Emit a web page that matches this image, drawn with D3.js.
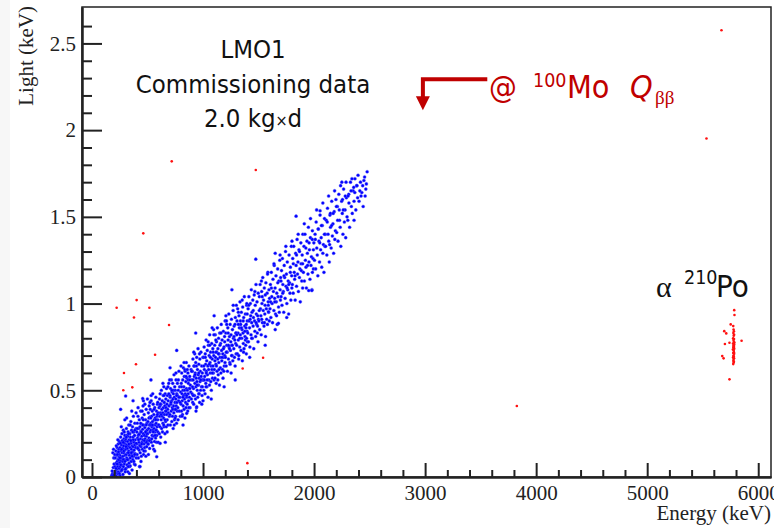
<!DOCTYPE html>
<html>
<head>
<meta charset="utf-8">
<script src="https://cdn.jsdelivr.net/npm/d3@7"></script>
<style>
  body { margin: 0; background: #fff; }
</style>
</head>
<body>
<svg id="chart" width="774" height="528"></svg>
<script>
// axis ticks
const xMajor = [0, 1000, 2000, 3000, 4000, 5000, 6000];
const yMajor = [0, 0.5, 1, 1.5, 2, 2.5];

// beta/gamma band, pairs of [energy keV, light eV]
const bandLow = [
  185,20, 192,55, 178,10, 196,110, 188,140, 199,75, 182,35, 194,160,
  203,15, 207,60, 210,110, 212,35, 215,150, 218,80, 220,5, 222,45, 224,125, 226,170, 228,90, 230,20, 231,60, 233,140,
  235,100, 236,190, 238,30, 240,75, 241,160, 243,115, 245,50, 246,205, 248,130, 250,85, 251,10, 253,170, 255,60, 257,120,
  258,230, 260,95, 262,35, 263,150, 265,185, 267,70, 268,110, 270,250, 272,140, 273,45, 275,200, 277,90, 278,165, 280,120,
  282,270, 283,60, 285,180, 287,140, 288,220, 290,100, 292,75, 293,195, 295,155, 296,240, 298,125, 299,30, 300,210,
  301,95, 303,160, 305,220, 306,50, 308,130, 310,280, 311,185, 313,110, 315,240, 316,70, 318,165, 320,205, 321,140, 323,30,
  325,260, 326,100, 328,180, 330,150, 331,300, 333,80, 335,215, 336,125, 338,190, 340,60, 341,250, 343,170, 345,110, 346,230,
  348,140, 350,320, 351,195, 353,90, 355,160, 356,270, 358,125, 360,210, 361,40, 363,180, 365,290, 366,145, 368,100, 370,230,
  371,175, 373,350, 375,120, 376,260, 378,200, 380,155, 381,75, 383,240, 385,185, 386,310, 388,135, 390,215, 393,170, 396,280, 399,110,
  402,190, 404,260, 406,130, 408,310, 410,225, 412,170, 414,350, 416,240, 418,110, 420,280, 422,200, 424,155, 426,330, 428,250,
  430,185, 432,290, 434,140, 436,220, 438,380, 440,265, 442,175, 444,120, 446,305, 448,235, 450,200, 452,340, 454,160, 456,275,
  458,215, 460,410, 462,250, 464,130, 466,300, 468,190, 470,360, 472,240, 474,170, 476,285, 478,220, 480,150, 482,330, 484,260,
  486,200, 488,390, 490,235, 492,175, 494,310, 496,270, 498,210, 499,450,
  502,250, 504,320, 506,190, 508,370, 510,280, 513,225, 515,410, 517,300, 519,165, 521,345, 523,260, 525,390, 527,215, 529,310,
  531,270, 533,440, 535,200, 537,350, 539,290, 541,240, 543,380, 545,320, 547,180, 549,270, 551,420, 553,300, 555,235, 557,360,
  559,280, 561,330, 563,205, 565,400, 567,260, 569,340, 571,300, 573,225, 575,460, 577,310, 579,270, 581,380, 583,240, 585,350,
  587,290, 589,420, 591,330, 593,260, 595,370, 598,300,
  205,130, 247,20, 233,215, 268,40, 219,180, 291,260, 254,195, 279,15, 312,340, 337,20, 264,290, 301,45, 358,380, 322,235,
  389,70, 345,300, 377,90, 296,330, 415,400, 441,90, 463,440, 397,370, 428,60, 485,120, 452,380, 508,130, 533,470, 476,420,
  556,160, 522,430, 581,200, 547,480, 592,430, 565,150, 517,210, 489,300, 443,260, 419,215, 371,215, 354,140, 332,190, 318,100,
  286,150, 273,210, 259,70, 242,100, 229,130, 216,50, 209,25, 283,100, 306,175, 329,250, 344,65, 367,260, 384,130, 407,280,
  433,180, 457,300, 471,210, 494,250, 513,340, 538,220, 559,390, 577,270, 596,200, 412,165, 438,310, 467,150, 491,200, 526,300,
  552,260, 574,330, 226,75, 239,145, 252,110, 266,160, 281,200, 297,90, 309,230, 327,140, 349,210, 362,120, 386,270, 398,195,
  423,245, 447,190, 462,330, 483,260, 505,190, 529,340, 543,300, 568,240, 589,360
];
const bandMid = [
  602,300, 604,400, 606,250, 608,450, 610,350, 612,290, 614,480, 617,370, 619,230, 621,420, 623,330, 625,500, 627,280, 629,390,
  631,350, 633,440, 635,260, 637,370, 639,310, 641,470, 643,400, 645,340, 647,520, 649,290, 651,430, 653,360, 655,410, 657,250,
  659,480, 661,380, 663,320, 665,450, 667,400, 669,290, 671,510, 673,360, 675,420, 677,330, 680,470, 682,390, 684,300, 686,440,
  688,370, 691,540, 694,410, 697,350,
  702,360, 704,460, 706,300, 708,510, 710,420, 713,380, 715,560, 717,440, 719,320, 721,490, 723,400, 725,350, 727,540, 729,450,
  731,280, 733,480, 735,410, 737,370, 739,590, 741,460, 743,330, 745,520, 747,430, 749,390, 751,500, 753,350, 755,450, 757,560,
  759,410, 761,310, 763,480, 765,430, 767,380, 769,540, 771,470, 773,400, 775,330, 777,500, 780,440, 783,610, 786,380, 789,520,
  792,460, 795,350, 798,490,
  802,420, 804,540, 806,380, 808,600, 811,480, 813,440, 815,360, 817,560, 819,500, 821,410, 823,630, 825,470, 827,520, 829,390,
  831,580, 833,450, 835,500, 837,340, 839,610, 841,480, 843,430, 845,550, 847,400, 849,660, 851,510, 853,460, 855,570, 857,420,
  859,500, 862,380, 864,600, 866,480, 868,540, 870,440, 873,640, 875,510, 878,460, 880,580, 883,400, 886,530, 889,490, 892,620,
  895,450, 898,560,
  902,480, 904,610, 907,430, 909,680, 911,560, 914,510, 916,420, 918,640, 921,580, 923,470, 925,710, 927,540, 930,600, 932,450,
  934,660, 936,520, 939,570, 941,400, 943,690, 945,550, 948,500, 950,620, 952,460, 955,740, 957,590, 959,530, 962,650, 964,480,
  966,570, 969,430, 971,680, 973,550, 976,610, 978,500, 981,720, 983,580, 986,520, 988,640, 991,470, 994,600, 996,560, 999,690,
  1002,560, 1005,690, 1007,500, 1010,750, 1012,620, 1015,580, 1018,480, 1020,710, 1023,650, 1025,540, 1028,790, 1030,610,
  1033,670, 1035,520, 1038,730, 1040,590, 1043,640, 1045,460, 1048,760, 1050,620, 1053,560, 1055,700, 1058,530, 1060,820,
  1063,660, 1065,600, 1068,720, 1070,550, 1073,640, 1075,500, 1078,770, 1080,620, 1083,680, 1085,570, 1088,740, 1090,640,
  1093,600, 1095,850, 1097,700, 1099,560,
  1102,620, 1105,760, 1108,570, 1110,820, 1113,690, 1116,650, 1118,540, 1121,780, 1124,720, 1126,610, 1129,860, 1132,680,
  1134,740, 1137,590, 1140,800, 1142,660, 1145,710, 1148,530, 1150,830, 1153,690, 1156,630, 1158,770, 1161,600, 1164,880,
  1167,730, 1169,670, 1172,790, 1175,620, 1178,710, 1180,570, 1183,840, 1186,690, 1189,750, 1191,640, 1194,810, 1196,700,
  1198,660, 1199,900,
  1202,690, 1205,830, 1208,640, 1211,900, 1214,760, 1217,720, 1220,610, 1223,860, 1226,790, 1229,680, 1232,940, 1235,750,
  1238,810, 1241,660, 1244,880, 1247,730, 1250,780, 1253,600, 1256,910, 1259,760, 1262,700, 1265,850, 1268,670, 1271,960,
  1274,800, 1277,740, 1280,870, 1283,690, 1286,790, 1289,640, 1291,920, 1294,770, 1296,830, 1298,710, 1300,990, 1290,560,
  1303,760, 1306,900, 1309,710, 1312,970, 1315,830, 1318,790, 1321,680, 1324,930, 1327,860, 1330,750, 1333,1010, 1336,820,
  1339,880, 1342,730, 1345,950, 1348,800, 1351,850, 1354,670, 1357,980, 1360,830, 1363,770, 1366,920, 1369,740, 1372,1040,
  1375,870, 1378,810, 1381,940, 1384,760, 1387,860, 1390,710, 1393,990, 1396,840, 1398,900, 1399,780,
  612,410, 658,330, 703,470, 639,540, 677,260, 728,390, 756,600, 692,480, 741,300, 783,460, 811,350, 847,580, 873,400, 829,660,
  905,520, 937,380, 968,710, 921,640, 989,420, 1012,560, 1046,780, 1074,450, 1021,690, 1098,820, 1133,560, 1162,830, 1117,720,
  1187,610, 1213,880, 1244,650, 1272,990, 1229,760, 1297,830, 1322,700, 1353,1020, 1381,790, 1337,900, 1394,1000, 622,360,
  648,470, 667,380, 684,520, 711,430, 735,500, 749,340, 762,470, 778,560, 794,430, 806,520, 819,460, 836,620, 852,470, 866,560,
  881,510, 897,610, 911,470, 928,590, 946,530, 961,600, 979,560, 994,520, 1007,640, 1029,600, 1037,560, 1056,650, 1067,690,
  1083,600, 1092,720, 1107,670, 1121,640, 1138,710, 1152,760, 1171,690, 1184,740, 1195,780, 1209,720, 1226,830, 1238,740,
  1252,820, 1263,760, 1279,810, 1288,880, 1304,820, 1318,880, 1331,800, 1346,860, 1362,900, 1376,840, 1389,880, 1398,940,
  615,420, 646,300, 699,560, 752,390, 802,640, 858,620, 917,720, 963,480, 1027,520, 1082,860, 1143,620, 1206,930, 1257,700,
  1318,950, 1365,720, 1392,800, 1060,760, 1115,790, 940,640, 880,560, 720,500
];
const bandHigh = [
  1403,830, 1406,970, 1409,780, 1413,1040, 1416,900, 1419,860, 1422,750, 1426,1000, 1429,930, 1432,820, 1435,1080, 1438,890,
  1441,950, 1444,800, 1448,1020, 1451,870, 1454,920, 1457,740, 1461,1050, 1464,900, 1467,840, 1470,990, 1474,810, 1477,1110,
  1480,940, 1483,880, 1486,1010, 1489,830, 1492,930, 1495,780, 1497,1060, 1499,910,
  1503,900, 1507,1040, 1510,850, 1514,1110, 1517,970, 1521,930, 1524,820, 1528,1070, 1531,1000, 1535,890, 1538,1150, 1542,960,
  1545,1020, 1549,870, 1552,1090, 1556,940, 1559,990, 1563,810, 1566,1120, 1570,970, 1573,910, 1577,1060, 1580,880, 1584,1180,
  1587,1010, 1591,950, 1594,1080, 1597,900, 1599,1030, 1560,760,
  1603,970, 1607,1110, 1611,920, 1615,1180, 1619,1040, 1622,1000, 1626,890, 1630,1140, 1634,1070, 1638,960, 1641,1220, 1645,1030,
  1649,1090, 1653,940, 1657,1160, 1660,1010, 1664,1060, 1668,880, 1672,1200, 1676,1040, 1680,980, 1683,1130, 1687,950, 1691,1250,
  1694,1080, 1697,1020, 1699,1150, 1650,850,
  1703,1040, 1707,1190, 1711,990, 1715,1260, 1719,1110, 1723,1070, 1727,950, 1731,1220, 1735,1150, 1739,1030, 1743,1300, 1747,1100,
  1751,1170, 1755,1000, 1759,1240, 1763,1080, 1767,1130, 1771,940, 1775,1280, 1779,1120, 1783,1060, 1787,1210, 1791,1020, 1795,1330,
  1798,1160, 1800,1090,
  1804,1110, 1808,1260, 1812,1060, 1817,1330, 1821,1180, 1825,1140, 1830,1020, 1834,1290, 1838,1220, 1842,1100, 1847,1370, 1851,1170,
  1855,1240, 1859,1070, 1864,1310, 1868,1150, 1872,1200, 1876,1010, 1881,1350, 1885,1190, 1889,1130, 1893,1280, 1897,1090, 1899,1400,
  1904,1180, 1909,1330, 1913,1130, 1918,1400, 1922,1250, 1927,1210, 1931,1090, 1936,1360, 1940,1290, 1945,1170, 1949,1440, 1954,1240,
  1958,1310, 1963,1140, 1967,1380, 1972,1220, 1976,1270, 1981,1080, 1985,1420, 1990,1260, 1994,1200, 1998,1350, 1952,1075, 1980,1075,
  2004,1250, 2009,1400, 2014,1200, 2019,1470, 2024,1320, 2029,1280, 2034,1160, 2039,1430, 2044,1360, 2049,1240, 2054,1510, 2059,1310,
  2064,1380, 2069,1210, 2074,1450, 2079,1290, 2084,1340, 2089,1180, 2094,1490, 2098,1330,
  2104,1330, 2110,1480, 2115,1280, 2121,1550, 2126,1400, 2132,1360, 2137,1240, 2143,1510, 2148,1440, 2154,1320, 2159,1590, 2165,1390,
  2170,1460, 2176,1290, 2181,1530, 2187,1370, 2192,1420, 2197,1600,
  2204,1410, 2210,1560, 2216,1360, 2223,1630, 2229,1480, 2235,1440, 2241,1330, 2248,1590, 2254,1520, 2260,1400, 2266,1660, 2273,1470,
  2279,1540, 2285,1380, 2291,1610, 2297,1500,
  2304,1480, 2312,1630, 2320,1440, 2328,1700, 2336,1560, 2344,1520, 2352,1650, 2360,1590, 2368,1720, 2376,1540, 2384,1680, 2392,1610,
  2405,1590, 2418,1700, 2430,1640, 2442,1560, 2455,1730, 2466,1660, 2478,1760,
  1412,990, 1438,800, 1467,1070, 1491,870, 1526,1130, 1553,890, 1581,1170, 1608,1010, 1639,1230, 1662,930, 1694,1280, 1718,1060,
  1746,1330, 1772,1110, 1801,1360, 1829,1160, 1857,1400, 1883,1230, 1912,1460, 1941,1220, 1968,1490, 1994,1310, 2023,1540, 2051,1350,
  2079,1580, 2102,1400, 2131,1620, 2158,1450, 2185,1650, 2212,1480, 2239,1680, 2263,1540, 2288,1700, 2314,1580, 2341,1720, 2367,1640,
  2396,1740, 2423,1620, 2449,1710, 2471,1690, 1424,910, 1452,960, 1478,890, 1506,960, 1533,1040, 1561,1050, 1588,990, 1616,1090,
  1646,1010, 1673,1120, 1702,1130, 1729,1160, 1757,1090, 1786,1180, 1813,1230, 1842,1280, 1869,1300, 1897,1230, 1926,1320, 1955,1350,
  1984,1370, 2011,1370, 2037,1430, 2066,1450, 2093,1400, 2119,1470, 2147,1520, 2172,1520, 2201,1560, 2227,1540, 2256,1600, 2281,1620,
  2306,1620, 2333,1650, 2357,1670, 2386,1680, 2412,1650, 2438,1680, 2460,1620, 1985,1180, 2140,1340
];
// stray blue events along the band edges
const bandEdges = [
  934,830, 763,730, 703,630, 531,560, 370,440, 258,390, 1475,1256, 1754,920, 1679,886, 1838,1504, 2054,1535, 2360,1480,
  1529,909, 1589,953, 943,405, 853,367, 613,194, 583,117, 432,60, 327,60, 192,10, 303,467, 457,453, 1100,930, 1260,1080,
  1190,520, 1420,690, 1650,1290, 2250,1700, 660,200, 820,300, 1000,440
];

// red events outside the band: [energy keV, light keV]
const redOutliers = [
  [222,0.976], [402,1.02], [517,0.976], [378,0.92], [694,0.876], [568,0.705], [396,0.65], [288,0.60],
  [282,0.50], [363,0.517], [718,1.82], [462,1.405], [1541,0.688], [1357,0.626], [1399,0.08], [1475,1.77],
  [5669,2.576], [5534,1.952], [3826,0.409]
];
// 210Po alpha line
const poAlpha = [
  [5784,0.962], [5786,0.934], [5752,0.88], [5775,0.87], [5694,0.841], [5712,0.828], [5850,0.786], [5700,0.767],
  [5741,0.774], [5676,0.697], [5688,0.684], [5741,0.563], [5775,0.651],
  [5778,0.85], [5781,0.84], [5776,0.83], [5783,0.82], [5779,0.815], [5774,0.80], [5782,0.795], [5777,0.79],
  [5780,0.78], [5785,0.775], [5773,0.77], [5778,0.76], [5782,0.755], [5776,0.75], [5780,0.745], [5784,0.74],
  [5772,0.735], [5779,0.73], [5781,0.72], [5775,0.715], [5783,0.71], [5777,0.70], [5780,0.695], [5774,0.69],
  [5782,0.685], [5778,0.68], [5776,0.67], [5781,0.665], [5779,0.66], [5777,0.745], [5783,0.765]
];
const qbbArrow = { e: 2980, top: 2.294, tip: 2.115, start: 3560 };

// turn flat pairs into points
function pairs(arr) {
  const out = [];
  for (let i = 0; i < arr.length; i += 2) out.push([arr[i], arr[i + 1] / 1000]);
  return out;
}
const band = pairs(bandLow).concat(pairs(bandMid), pairs(bandHigh), pairs(bandEdges));

const svg = d3.select("#chart");
const W = 774, H = 528;

const x = d3.scaleLinear().domain([-90, 6115]).range([82, 771]);
const y = d3.scaleLinear().domain([0, 2.71]).range([477, 7]);

// light grey strip on the left like the original screenshot
svg.append("rect").attr("x", 0).attr("y", 0).attr("width", 10).attr("height", H).attr("fill", "#f7f7f7");

const xMinor = d3.range(0, 6001, 200).filter(d => d % 1000 !== 0);
const yMinor = d3.range(1, 27).map(d => d / 10).filter(d => Math.abs(d * 2 - Math.round(d * 2)) > 1e-6);

// points first, axes on top
const dots = svg.append("g");
dots.selectAll(".band").data(band).enter().append("circle")
  .attr("cx", d => x(d[0])).attr("cy", d => y(d[1])).attr("r", 1.55)
  .attr("fill", "#0000ff")
  .attr("stroke", "rgba(90,90,255,0.45)").attr("stroke-width", 0.9);
dots.selectAll(".red").data(redOutliers.concat(poAlpha)).enter().append("circle")
  .attr("cx", d => x(d[0])).attr("cy", d => y(d[1])).attr("r", 1.3)
  .attr("fill", "#ff1010");

// frame
svg.append("rect").attr("x", 82).attr("y", 7).attr("width", 771 - 82).attr("height", 477 - 7)
  .attr("fill", "none").attr("stroke", "#222").attr("stroke-width", 1.5);

// x axis
const gxMinor = svg.append("g").attr("transform", `translate(0,${y(0)})`)
  .call(d3.axisBottom(x).tickValues(xMinor).tickSize(-7).tickSizeOuter(0).tickFormat(""));
const gx = svg.append("g").attr("transform", `translate(0,${y(0)})`)
  .call(d3.axisBottom(x).tickValues(xMajor).tickSize(-14).tickSizeOuter(0).tickPadding(8).tickFormat(d3.format("d")));

// y axis
const gyMinor = svg.append("g").attr("transform", `translate(${x.range()[0]},0)`)
  .call(d3.axisLeft(y).tickValues(yMinor).tickSize(-10).tickSizeOuter(0).tickFormat(""));
const gy = svg.append("g").attr("transform", `translate(${x.range()[0]},0)`)
  .call(d3.axisLeft(y).tickValues(yMajor).tickSize(-20).tickSizeOuter(0).tickPadding(6).tickFormat(d => d));

[gxMinor, gx, gyMinor, gy].forEach(g => {
  g.selectAll("line").attr("stroke", "#222").attr("stroke-width", 2);
  g.select(".domain").attr("stroke", "#222").attr("stroke-width", 2);
  g.selectAll("text").attr("font-family", "'Liberation Serif', 'Times New Roman', serif")
    .attr("font-size", 21).attr("fill", "#222");
});

// axis titles
svg.append("text").attr("x", 771).attr("y", 520).attr("text-anchor", "end")
  .attr("font-family", "'Liberation Serif', serif").attr("font-size", 21).attr("fill", "#222")
  .text("Energy (keV)");
svg.append("text").attr("transform", "translate(33,6) rotate(-90)").attr("text-anchor", "end")
  .attr("font-family", "'Liberation Serif', serif").attr("font-size", 21).attr("fill", "#222")
  .text("Light (keV)");

// detector label
const sans = "'DejaVu Sans Condensed', 'DejaVu Sans', sans-serif";
const info = svg.append("g").attr("font-family", sans).attr("font-size", 25.5).attr("fill", "#111")
  .attr("text-anchor", "middle");
info.append("text").attr("x", 253).attr("y", 58).text("LMO1");
info.append("text").attr("x", 253).attr("y", 93).text("Commissioning data");
const exp = info.append("text").attr("x", 253).attr("y", 127);
exp.append("tspan").text("2.0 kg");
exp.append("tspan").attr("font-size", 16).attr("dy", -1).text("\u00d7");
exp.append("tspan").attr("dy", 1).text("d");

// Q-value arrow
const red = "#c00000";
svg.append("path")
  .attr("d", `M${x(qbbArrow.start)},${y(qbbArrow.top)} H${x(qbbArrow.e)} V${y(qbbArrow.tip) - 12}`)
  .attr("fill", "none").attr("stroke", red).attr("stroke-width", 4);
svg.append("path")
  .attr("d", `M${x(qbbArrow.e) - 7},${y(qbbArrow.tip) - 14} L${x(qbbArrow.e) + 7},${y(qbbArrow.tip) - 14} L${x(qbbArrow.e)},${y(qbbArrow.tip)} Z`)
  .attr("fill", red);

const q = svg.append("g").attr("font-family", sans).attr("fill", red);
q.append("text").attr("x", 489).attr("y", 98).attr("font-size", 31).text("@");
q.append("text").attr("x", 533).attr("y", 87).attr("font-size", 19.5).text("100");
q.append("text").attr("x", 567).attr("y", 98).attr("font-size", 32).text("Mo");
q.append("text").attr("x", 630).attr("y", 98).attr("font-size", 32).attr("font-style", "italic").text("Q");
q.append("text").attr("x", 655).attr("y", 104).attr("font-size", 19)
  .attr("font-family", "'Liberation Serif', serif").text("\u03b2\u03b2");

// 210Po label
const po = svg.append("g").attr("font-family", sans).attr("fill", "#111");
po.append("text").attr("x", 656).attr("y", 297).attr("font-size", 30)
  .attr("font-family", "'Liberation Serif', serif").text("\u03b1");
po.append("text").attr("x", 684).attr("y", 284).attr("font-size", 19.5).text("210");
po.append("text").attr("x", 716).attr("y", 297).attr("font-size", 31).text("Po");
</script>
</body>
</html>
